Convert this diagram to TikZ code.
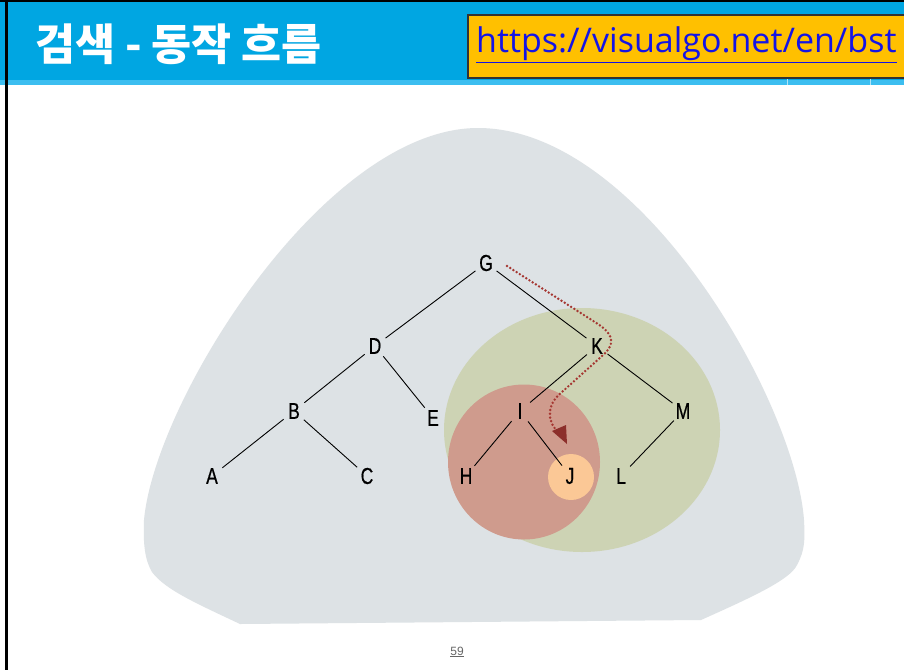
\documentclass[tikz,border=0pt]{standalone}
\usepackage{fontspec}
\setmainfont{Liberation Sans}
\newfontfamily\krfont{Noto Sans CJK KR}
\newfontfamily\urlfont{Open Sans}
\newfontfamily\treefont[FakeStretch=0.76,FakeBold=0.6]{Liberation Sans}
\usetikzlibrary{arrows.meta}
\definecolor{hdrblue}{RGB}{0,166,226}
\definecolor{hdrlight}{RGB}{60,190,240}
\definecolor{boxorange}{RGB}{255,192,0}
\definecolor{urlblue}{RGB}{20,20,230}
\definecolor{blobgrey}{RGB}{221,226,229}
\definecolor{kgreen}{RGB}{205,211,180}
\definecolor{ired}{RGB}{207,155,141}
\definecolor{jorange}{RGB}{251,200,150}
\definecolor{pathred}{RGB}{165,55,50}
\begin{document}
\begin{tikzpicture}[x=1pt,y=-1pt,
  lbl/.style={circle,minimum size=26pt,inner sep=0pt,font=\treefont\fontsize{23}{23}\selectfont},
  treeline/.style={black,line width=0.9pt},
  searchpath/.style={pathred,line width=2.7pt,dash pattern=on 0pt off 3.8pt,line cap=round}]
\useasboundingbox (0,0) rectangle (904,670);
% background
\fill[white] (0,0) rectangle (904,670);
% header band
\fill[hdrblue] (0,0) rectangle (904,85);
\fill[hdrlight] (0,80) rectangle (904,85);
\draw[white!70!hdrblue,line width=0.8pt] (787,77) -- (787,85);
\draw[white!70!hdrblue,line width=0.8pt] (870,77) -- (870,85);
\draw[black,line width=1.6pt] (0,0.8) -- (904,0.8);
\draw[black,line width=2.5pt] (6.3,0) -- (6.3,670);
% title
\node[anchor=west,text=white,font=\krfont\bfseries\fontsize{43.5}{43.5}\selectfont,inner sep=0pt] (title) at (35,44) {검색 - 동작 흐름};
% url box
\node[anchor=north west,fill=boxorange,draw=black!80,line width=2pt,minimum width=450pt,minimum height=63pt,inner sep=0pt] (urlbox) at (467,14) {};
\node[anchor=west,text=urlblue,font=\urlfont\fontsize{34}{34}\selectfont,inner sep=0pt] (url) at (476,45) {\underline{https://visualgo.net/en/bst}};
% blob
\fill[blobgrey] (240,624) -- (701,620) .. controls (750,598) and (790,580) .. (797,565)
  .. controls (805,550) and (805,540) .. (804,520)
  .. controls (795,400) and (640,128) .. (478,128)
  .. controls (325,128) and (155,400) .. (144,520)
  .. controls (143,545) and (145,560) .. (152,572)
  .. controls (165,590) and (200,605) .. (240,624) -- cycle;
% regions
\fill[kgreen] (582,430) ellipse [x radius=138, y radius=122];
\fill[ired] (524,462) ellipse [x radius=76, y radius=77.5];
\fill[jorange] (571,477) circle [radius=23];
% nodes
\node[lbl] (G) at (486,263) {G};
\node[lbl] (D) at (375,346) {D};
\node[lbl] (K) at (597,346) {K};
\node[lbl] (B) at (294,411) {B};
\node[lbl] (E) at (433,418) {E};
\node[lbl] (I) at (520,411) {I};
\node[lbl] (M) at (683,411) {M};
\node[lbl] (A) at (212,476) {A};
\node[lbl] (C) at (367,476) {C};
\node[lbl] (H) at (466,476) {H};
\node[lbl] (J) at (570,476) {J};
\node[lbl] (L) at (621,476) {L};
% edges
\draw[treeline] (G) -- (D);
\draw[treeline] (G) -- (K);
\draw[treeline] (D) -- (B);
\draw[treeline] (D) -- (E);
\draw[treeline] (B) -- (A);
\draw[treeline] (B) -- (C);
\draw[treeline] (K) -- (I);
\draw[treeline] (K) -- (M);
\draw[treeline] (I) -- (H);
\draw[treeline] (I) -- (J);
\draw[treeline] (M) -- (L);
% search path
\coordinate (ps) at (507,266);
\coordinate (pe) at (558,432);
\draw[searchpath] (ps) -- (598,324) .. controls (616,336) and (614,346) .. (602,356)
  -- (562,392) .. controls (547,404) and (546,420) .. (pe);
\fill[pathred!85!black] (552,431) -- (567,444) -- (566,425) -- cycle;
% page number
\node[text=black!60,font=\fontsize{12}{12}\selectfont] (pg) at (457,652) {\underline{59}};
\end{tikzpicture}
\end{document}
